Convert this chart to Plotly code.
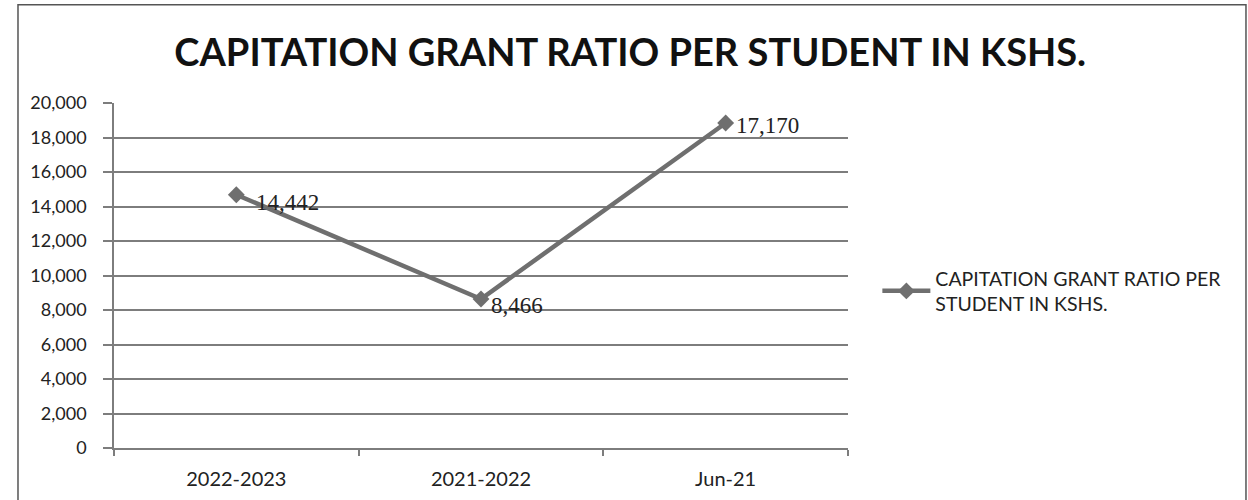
import plotly.graph_objects as go

categories = ["2022-2023", "2021-2022", "Jun-21"]
plotted_values = [14680, 8640, 18840]
label_texts = ["14,442", "8,466", "17,170"]
label_xshift = [18, 8, 8]
label_yshift = [-8, -7, -2]
y_tick_vals = [0, 2000, 4000, 6000, 8000, 10000, 12000, 14000, 16000, 18000, 20000]
y_tick_text = ["0", "2,000", "4,000", "6,000", "8,000", "10,000", "12,000",
               "14,000", "16,000", "18,000", "20,000"]
series_name = "CAPITATION GRANT RATIO PER<br>STUDENT IN KSHS."
title_text = "CAPITATION GRANT RATIO PER STUDENT IN KSHS."

line_color = "#6f6f6f"
grid_color = "#7d7d7d"

fig = go.Figure()
fig.add_trace(go.Scatter(
    x=categories, y=plotted_values, mode="lines+markers", name=series_name,
    line=dict(color=line_color, width=4.5),
    marker=dict(symbol="diamond", size=13, color=line_color),
))

for c, v, t, xs, ys in zip(categories, plotted_values, label_texts, label_xshift, label_yshift):
    fig.add_annotation(x=c, y=v, text=t, showarrow=False, xanchor="left",
                       yanchor="middle", xshift=xs, yshift=ys,
                       font=dict(family="Liberation Serif", size=23, color="#222222"))

fig.add_shape(type="rect", xref="paper", yref="paper",
              x0=-0.1308, x1=1.5422, y0=-0.3, y1=1.285,
              line=dict(color="#555555", width=1.5), fillcolor="rgba(0,0,0,0)")

fig.update_layout(
    width=1248, height=500,
    margin=dict(l=114, r=400, t=103, b=52),
    paper_bgcolor="white", plot_bgcolor="white",
    title=dict(text=title_text, x=0.505, xref="container", xanchor="center",
               y=0.894, yref="container", yanchor="middle",
               font=dict(family="Lato", size=38, color="#111111", weight="bold")),
    showlegend=True,
    legend=dict(x=1.04, xanchor="left", y=0.455, yanchor="middle",
                font=dict(family="Lato", size=19.5, color="#222222"),
                itemwidth=48, tracegroupgap=0,
                bgcolor="rgba(0,0,0,0)"),
    xaxis=dict(type="category", range=[-0.5, 2.5], showgrid=False, automargin=False,
               showline=True, linecolor=grid_color, linewidth=1.5,
               ticks="outside", tickson="boundaries", ticklen=6,
               tickcolor=grid_color, tickwidth=1.5, ticklabelstandoff=12,
               tickfont=dict(family="Lato", size=20, color="#222222")),
    yaxis=dict(range=[0, 20000], tickvals=y_tick_vals, ticktext=y_tick_text,
               showgrid=True, gridcolor=grid_color, gridwidth=1.5, automargin=False,
               showline=True, linecolor=grid_color, linewidth=1.5,
               ticks="outside", ticklen=9, tickcolor=grid_color, tickwidth=1.5,
               zeroline=False, ticklabelstandoff=13,
               tickfont=dict(family="Lato", size=18, color="#222222")),
)

fig.write_html("out.html")
